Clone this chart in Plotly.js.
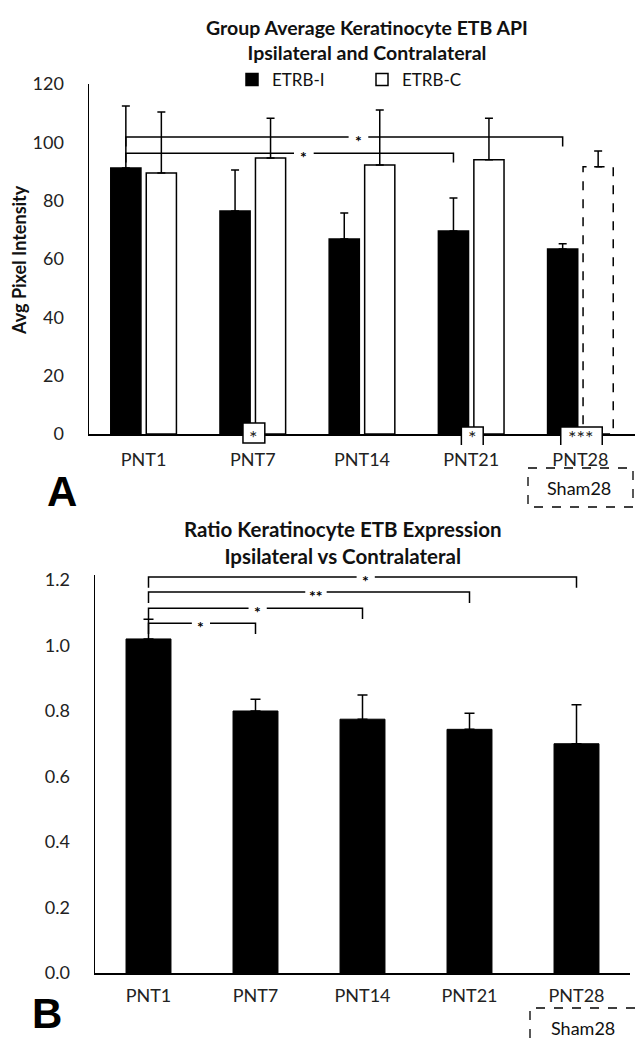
<!DOCTYPE html>
<html>
<head>
<meta charset="utf-8">
<script src="https://cdn.plot.ly/plotly-3.0.1.min.js"></script>
<style>html,body{margin:0;padding:0;background:#fff}#chart{width:635px;height:1042px}</style>
</head>
<body>
<div id="chart"></div>
<script>
// ---------- data ----------
const categories = ['PNT1', 'PNT7', 'PNT14', 'PNT21', 'PNT28'];
const etrbI      = [91.2, 76.5, 66.9, 69.6, 63.4];
const etrbIErr   = [21.3, 14.0, 8.9, 11.3, 1.8];
const etrbC      = [89.5, 94.6, 92.2, 94.0, 91.6];
const etrbCErr   = [20.9, 13.7, 18.9, 14.3, 5.4];
const noErr      = [0, 0, 0, 0, 0];
const ratio      = [1.02, 0.80, 0.775, 0.744, 0.70];
const ratioErr   = [0.06, 0.036, 0.074, 0.049, 0.119];
const yTicksTop  = [0, 20, 40, 60, 80, 100, 120];
const yTicksBot  = [0, 0.2, 0.4, 0.6, 0.8, 1.0, 1.2];
// significance comparisons: [from category, to category, label]
const sigTop     = [['PNT1', 'PNT28', '*'], ['PNT1', 'PNT21', '*']];
const sigTopLvl  = [101.8, 96.3];
const sigBot     = [['PNT1', 'PNT28', '*'], ['PNT1', 'PNT21', '**'], ['PNT1', 'PNT14', '*'], ['PNT1', 'PNT7', '*']];
const sigBotLvl  = [1.209, 1.163, 1.114, 1.068];
// ipsi vs contra markers at the axis
const boxMarks   = [['PNT7', '*', 'closed'], ['PNT21', '*', 'open'], ['PNT28', '***', 'open']];
const shamLabel  = 'Sham28';

// ---------- geometry (pixels of the 635x1042 page) ----------
const W = 635, H = 1042;
const BARGAP = 0.35, BARGROUPGAP = 0.15;
const slot = (1 - BARGAP) / 2;
const offI = -slot / 2, offC = slot / 2, barW = slot * (1 - BARGROUPGAP);
const idx = c => categories.indexOf(c);
const px = v => v / W, py = v => 1 - v / H;

const shapes = [];
const annotations = [];
const blk = {color: 'black', width: 1.5};

// dashed Sham28 bar (contralateral PNT28), drawn from data value
const k = categories.length - 1;
shapes.push({type: 'rect', xref: 'x', yref: 'y', x0: k + offC - barW / 2, x1: k + offC + barW / 2,
  y0: 0, y1: etrbC[k], line: {color: 'black', width: 1.5, dash: 'dash'}, fillcolor: 'rgba(0,0,0,0)', layer: 'above'});

// top significance brackets
const topTick = 3.2;
sigTop.forEach((s, i) => {
  const a = idx(s[0]) + offI, b = idx(s[1]) + offI, y = sigTopLvl[i];
  const sx = (a + b) / 2 + 0.13, g = 0.09;
  shapes.push({type: 'path', xref: 'x', yref: 'y', line: blk,
    path: `M ${a} ${y - topTick} L ${a} ${y} L ${sx - g} ${y} M ${sx + g} ${y} L ${b} ${y} L ${b} ${y - topTick}`});
  annotations.push({xref: 'x', yref: 'y', x: sx, y: y, text: '<b>' + s[2] + '</b>', showarrow: false,
    font: {size: 16, color: '#000'}, yanchor: 'middle', yshift: -3});
});

// boxes straddling the category axis (y in page pixels, x in category units)
boxMarks.forEach(m => {
  const c = idx(m[0]);
  const hw = m[1].length > 1 ? 0.19 : 0.1;
  const x0 = c + 0.01 - hw, x1 = c + 0.01 + hw;
  if (m[2] === 'closed') {
    shapes.push({type: 'rect', xref: 'x', yref: 'paper', x0: x0, x1: x1, y0: py(443), y1: py(423),
      line: blk, fillcolor: 'white', layer: 'above'});
  } else {
    shapes.push({type: 'rect', xref: 'x', yref: 'paper', x0: x0, x1: x1, y0: py(440), y1: py(427),
      line: {width: 0}, fillcolor: 'white', layer: 'above'});
    shapes.push({type: 'path', xref: 'x', yref: 'paper', line: blk, layer: 'above',
      path: `M ${x0} ${py(445)} L ${x0} ${py(427)} L ${x1} ${py(427)} L ${x1} ${py(445)}`});
  }
  annotations.push({xref: 'x', yref: 'paper', x: c + 0.01, y: py(437), text: m[1], showarrow: false,
    font: {size: 20, color: '#222'}, yanchor: 'middle'});
});

// bottom significance brackets
const botTick = 0.033;
const botStarOff = [0.03, 0.065, 0.02, -0.01];
sigBot.forEach((s, i) => {
  const a = idx(s[0]), b = idx(s[1]), y = sigBotLvl[i];
  const sx = (a + b) / 2 + botStarOff[i], g = s[2].length > 1 ? 0.1 : 0.085;
  shapes.push({type: 'path', xref: 'x2', yref: 'y2', line: blk,
    path: `M ${a} ${y - botTick} L ${a} ${y} L ${sx - g} ${y} M ${sx + g} ${y} L ${b} ${y} L ${b} ${y - botTick}`});
  annotations.push({xref: 'x2', yref: 'y2', x: sx, y: y, text: '<b>' + s[2] + '</b>', showarrow: false,
    font: {size: 16, color: '#000'}, yanchor: 'middle', yshift: -3});
});

// Sham28 dashed label boxes
shapes.push({type: 'rect', xref: 'paper', yref: 'paper', x0: px(528), x1: px(633), y0: py(468), y1: py(507),
  line: {color: 'black', width: 1.3, dash: 'dash'}});
shapes.push({type: 'path', xref: 'paper', yref: 'paper', line: {color: 'black', width: 1.3, dash: 'dash'},
  path: `M ${px(635)} ${py(1008)} L ${px(530)} ${py(1008)} L ${px(530)} ${py(1042)}`});
annotations.push({xref: 'paper', yref: 'paper', x: px(579), y: py(488), text: shamLabel, showarrow: false,
  font: {size: 18, color: '#111'}, xanchor: 'center', yanchor: 'middle'});
annotations.push({xref: 'paper', yref: 'paper', x: px(583), y: py(1028), text: shamLabel, showarrow: false,
  font: {size: 18, color: '#111'}, xanchor: 'center', yanchor: 'middle'});

// panel letters, titles
annotations.push({xref: 'paper', yref: 'paper', x: px(62), y: py(491), text: '<b>A</b>', showarrow: false,
  font: {size: 42, color: 'black', family: 'Liberation Sans, Arial, sans-serif'}, xanchor: 'center', yanchor: 'middle'});
annotations.push({xref: 'paper', yref: 'paper', x: px(47), y: py(1013), text: '<b>B</b>', showarrow: false,
  font: {size: 42, color: 'black', family: 'Liberation Sans, Arial, sans-serif'}, xanchor: 'center', yanchor: 'middle'});
annotations.push({xref: 'paper', yref: 'paper', x: px(343), y: py(542),
  text: '<b>Ratio Keratinocyte ETB Expression<br>Ipsilateral vs Contralateral</b>', showarrow: false,
  font: {size: 20.5, color: '#111'}, xanchor: 'center', yanchor: 'middle'});
annotations.push({xref: 'paper', yref: 'paper', x: px(19), y: py(260), text: '<b>Avg Pixel Intensity</b>',
  textangle: -90, showarrow: false, font: {size: 18, color: '#111'}, xanchor: 'center', yanchor: 'middle'});

const traces = [
  {type: 'bar', name: 'ETRB-I', x: categories, y: etrbI, xaxis: 'x', yaxis: 'y',
   marker: {color: 'black', line: {color: 'black', width: 1.5}},
   error_y: {type: 'data', symmetric: false, array: etrbIErr, arrayminus: noErr, color: 'black', thickness: 1.5, width: 4}},
  {type: 'bar', name: 'ETRB-C', x: categories, y: etrbC, xaxis: 'x', yaxis: 'y',
   marker: {color: 'white', line: {color: 'black', width: [1.5, 1.5, 1.5, 1.5, 0]}},
   error_y: {type: 'data', symmetric: false, array: etrbCErr, arrayminus: noErr, color: 'black', thickness: 1.5, width: 4}},
  {type: 'bar', name: 'Ratio', x: categories, y: ratio, xaxis: 'x2', yaxis: 'y2', width: 0.42, showlegend: false,
   marker: {color: 'black', line: {color: 'black', width: 1}},
   error_y: {type: 'data', symmetric: false, array: ratioErr, arrayminus: noErr, color: 'black', thickness: 1.5, width: 5}}
];

const axisCommon = {showline: true, linecolor: 'black', linewidth: 1.5, ticks: '', showgrid: false,
  zeroline: false, fixedrange: true, tickfont: {size: 18, color: '#222'}};

// bottom y range extends a little above 1.2 so the top bracket fits (axis line top ~1.215)
const botTop = 1.215, botPxPerUnit = (973 - 580) / 1.2;

const layout = {
  width: W, height: H, margin: {l: 0, r: 0, t: 0, b: 0},
  paper_bgcolor: 'white', plot_bgcolor: 'rgba(0,0,0,0)',
  font: {family: 'Lato, "Open Sans", sans-serif', color: '#111', size: 17},
  barmode: 'group', bargap: BARGAP, bargroupgap: BARGROUPGAP,
  title: {text: '<b>Group Average Keratinocyte ETB API<br>Ipsilateral and Contralateral</b>',
    x: px(367), xanchor: 'center', xref: 'paper', y: py(35), yanchor: 'middle', yref: 'paper',
    font: {size: 19.5, color: '#111'}},
  showlegend: true,
  legend: {orientation: 'h', x: px(232), xanchor: 'left', y: py(80), yanchor: 'middle',
    font: {size: 17, color: '#111'}, entrywidth: 85, entrywidthmode: 'pixels', itemwidth: 30,
    bgcolor: 'rgba(0,0,0,0)', traceorder: 'normal'},
  xaxis: Object.assign({}, axisCommon, {domain: [px(89), 1], anchor: 'y', type: 'category',
    range: [-0.5, 4.5], ticklabelstandoff: 9}),
  yaxis: Object.assign({}, axisCommon, {domain: [py(434), py(84)], anchor: 'x', range: [0, 120],
    tickvals: yTicksTop, ticklabelstandoff: 20}),
  xaxis2: Object.assign({}, axisCommon, {domain: [px(95), px(630)], anchor: 'y2', type: 'category',
    range: [-0.5, 4.5], ticklabelstandoff: 6}),
  yaxis2: Object.assign({}, axisCommon, {domain: [py(973), py(973 - botTop * botPxPerUnit)], anchor: 'x2',
    range: [0, botTop], tickvals: yTicksBot, tickformat: '.1f', ticklabelstandoff: 20}),
  shapes: shapes,
  annotations: annotations
};

Plotly.newPlot('chart', traces, layout, {staticPlot: true, displayModeBar: false});
</script>
</body>
</html>
